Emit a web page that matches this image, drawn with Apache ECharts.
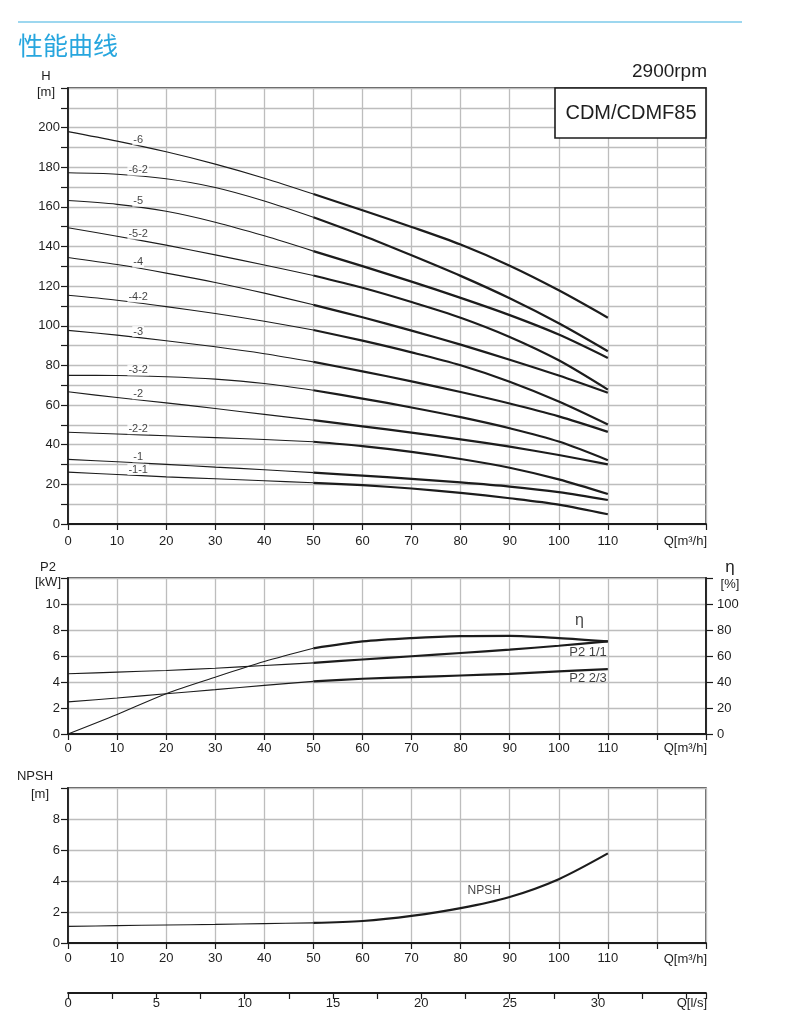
<!DOCTYPE html>
<html>
<head>
<meta charset="utf-8">
<script src="https://cdn.jsdelivr.net/npm/echarts@6/dist/echarts.min.js"></script>
<style>
html,body{margin:0;padding:0;background:#fff;}
#c{width:800px;height:1024px;}
</style>
</head>
<body>
<div id="c"></div>
<script>
// ---- data ----
const Q = [0, 10, 20, 30, 40, 50, 60, 70, 80, 90, 100, 110];           // m3/h
const curveNames = ['-6', '-6-2', '-5', '-5-2', '-4', '-4-2', '-3', '-3-2', '-2', '-2-2', '-1', '-1-1'];
const H_6   = [198, 193.2, 187.8, 181.6, 174.5, 166.5, 158.3, 149.9, 141, 130.3, 117.9, 104.1];
const H_6_2 = [177.2, 176.5, 174.2, 169.8, 163, 154.8, 145.6, 135.6, 125.2, 113.9, 101.3, 87.2];
const H_5   = [163.2, 161.3, 157.8, 152.3, 145.4, 137.7, 130.1, 122.3, 114.1, 105.4, 95.6, 83.8];
const H_5_2 = [149.5, 145.2, 140.7, 135.8, 130.7, 125.4, 119.2, 112, 104.1, 94.4, 82.6, 67.8];
const H_4   = [134.5, 130.9, 126.6, 121.9, 116.5, 110.6, 104.3, 97.6, 90.5, 82.9, 74.9, 66.2];
const H_4_2 = [115.4, 112.9, 109.7, 106.2, 102.3, 97.9, 92.5, 86.6, 80.1, 71.8, 61.8, 50.2];
const H_3   = [97.7, 95.3, 92.5, 89.4, 85.9, 81.8, 77, 72, 66.6, 60.8, 54.3, 46.5];
const H_3_2 = [75, 74.9, 74.3, 73.1, 70.9, 67.5, 63.3, 58.8, 53.9, 48.3, 41.6, 32.2];
const H_2   = [66.7, 63.8, 61.1, 58.3, 55.3, 52.4, 49.3, 46.1, 42.7, 39, 34.8, 30.1];
const H_2_2 = [46.3, 45.4, 44.5, 43.6, 42.6, 41.5, 39.3, 36.4, 32.8, 28.4, 22.5, 15.1];
const H_1   = [32.6, 31.4, 30.1, 28.7, 27.4, 25.9, 24.4, 22.8, 21, 18.9, 16.1, 12.1];
const H_1_1 = [26.2, 25, 23.8, 22.8, 21.8, 20.8, 19.6, 17.9, 15.7, 13, 9.8, 4.9];
const headCurves = [H_6, H_6_2, H_5, H_5_2, H_4, H_4_2, H_3, H_3_2, H_2, H_2_2, H_1, H_1_1];

const P2_full  = [4.63, 4.76, 4.89, 5.06, 5.27, 5.47, 5.73, 5.98, 6.23, 6.49, 6.79, 7.12];   // kW
const P2_twoThird = [2.47, 2.77, 3.1, 3.41, 3.74, 4.05, 4.25, 4.38, 4.5, 4.63, 4.81, 4.99]; // kW
const ETA = [0, 15, 31, 43.7, 55.7, 65.9, 71.2, 73.8, 75.3, 75.5, 73.8, 71.2];             // %
const NPSH = [1.07, 1.12, 1.16, 1.2, 1.25, 1.3, 1.42, 1.75, 2.25, 2.97, 4.12, 5.78];       // m

const xTicksQ = { min: 0, max: 130, interval: 10 };
const xTicksLs = { min: 0, max: 130 / 3.6, interval: 2.5 };

// ---- helpers ----
const INK = '#1c1c1c';
const GRIDC = '#bdbdbd';
const FONT = '"Liberation Sans", Arial, sans-serif';

function pts(arr, from, to) {
  const out = [];
  for (let i = from; i <= to; i++) out.push([Q[i], arr[i]]);
  return out;
}
function split(name, arr, xi, yi) {
  const base = { type: 'line', xAxisIndex: xi, yAxisIndex: yi, showSymbol: false, symbol: 'none',
                 smooth: 0.3, silent: true, z: 5 };
  return [
    Object.assign({}, base, { name: name + ' a', data: pts(arr, 0, 5), lineStyle: { color: INK, width: 1.1 } }),
    Object.assign({}, base, { name: name + ' b', data: pts(arr, 5, 11), lineStyle: { color: INK, width: 2.2 } })
  ];
}
function interp(arr, q) {
  for (let i = 0; i < Q.length - 1; i++) {
    if (q >= Q[i] && q <= Q[i + 1]) return arr[i] + (arr[i + 1] - arr[i]) * (q - Q[i]) / (Q[i + 1] - Q[i]);
  }
  return arr[arr.length - 1];
}
function xAxis(gi, ticks, fmt, split, tickLen, margin) {
  return {
    type: 'value', gridIndex: gi, min: ticks.min, max: ticks.max, interval: ticks.interval,
    axisLine: { show: true, onZero: false, lineStyle: { color: INK, width: 1.8 } },
    axisTick: { show: true, length: tickLen, lineStyle: { color: INK, width: 1.2 } },
    axisLabel: { formatter: fmt, color: '#1e1e1e', fontSize: 13, fontFamily: FONT, margin: margin, showMaxLabel: true, showMinLabel: true },
    splitLine: { show: split, lineStyle: { color: GRIDC, width: 1.3 } }
  };
}
function yAxis(gi, min, max, interval, fmt, pos, split) {
  return {
    type: 'value', gridIndex: gi, position: pos, min: min, max: max, interval: interval,
    axisLine: { show: true, lineStyle: { color: INK, width: 1.8 } },
    axisTick: { show: true, length: 7, lineStyle: { color: INK, width: 1.2 } },
    axisLabel: { formatter: fmt, color: '#1e1e1e', fontSize: 13, fontFamily: FONT, margin: pos === 'right' ? 11 : 8 },
    splitLine: { show: split, lineStyle: { color: GRIDC, width: 1.3 } }
  };
}

const series = [];
headCurves.forEach((arr, i) => series.push(...split(curveNames[i], arr, 0, 0)));
// curve labels sit just above each curve at Q ≈ 14.3
series.push({
  type: 'scatter', xAxisIndex: 0, yAxisIndex: 0, symbolSize: 0, silent: true, z: 8,
  data: headCurves.map((arr, i) => ({ value: [14.3, interp(arr, 14.3)], name: curveNames[i] })),
  label: { show: true, position: 'inside', offset: [0, -6], formatter: p => p.name,
           color: '#111', fontSize: 11, fontFamily: FONT, backgroundColor: '#fff', padding: [0, 1] }
});

series.push(...split('P2 1/1', P2_full, 1, 1));
series.push(...split('P2 2/3', P2_twoThird, 1, 1));
series.push(...split('eta', ETA, 1, 2));
series.push({
  type: 'scatter', xAxisIndex: 1, yAxisIndex: 1, symbolSize: 0, silent: true, z: 8,
  data: [
    { value: [110, P2_full[11]], name: 'P2 1/1', label: { offset: [-1, 11] } },
    { value: [110, P2_twoThird[11]], name: 'P2 2/3', label: { offset: [-1, 9] } }
  ],
  label: { show: true, position: 'inside', align: 'right', formatter: p => p.name,
           color: '#111', fontSize: 13, fontFamily: FONT }
});
series.push({
  type: 'scatter', xAxisIndex: 1, yAxisIndex: 2, symbolSize: 0, silent: true, z: 8,
  data: [{ value: [104, interp(ETA, 104)], name: 'η' }],
  label: { show: true, position: 'inside', offset: [1, -19], formatter: p => p.name,
           color: '#111', fontSize: 16, fontFamily: FONT }
});

series.push(...split('NPSH', NPSH, 2, 3));
series.push({
  type: 'scatter', xAxisIndex: 2, yAxisIndex: 3, symbolSize: 0, silent: true, z: 8,
  data: [{ value: [85, interp(NPSH, 85)], name: 'NPSH' }],
  label: { show: true, position: 'inside', offset: [-1, -12], formatter: p => p.name,
           color: '#111', fontSize: 12, fontFamily: FONT }
});

const gridBase = { show: true, borderColor: INK, borderWidth: 1.3, backgroundColor: 'transparent', containLabel: false };

function txt(x, y, s, size, align, extra) {
  return Object.assign({ type: 'text', z: 100, x: x, y: y,
    style: { text: s, fill: '#1e1e1e', font: size + 'px ' + FONT, textAlign: align || 'center', textVerticalAlign: 'middle' } }, extra || {});
}

const option = {
  animation: false,
  backgroundColor: '#fff',
  grid: [
    Object.assign({ left: 68, right: 94, top: 88, height: 436 }, gridBase),
    Object.assign({ left: 68, right: 94, top: 578, height: 156 }, gridBase),
    Object.assign({ left: 68, right: 94, top: 788, height: 155 }, gridBase),
    { left: 68, right: 94, top: 992, height: 1, show: false }
  ],
  xAxis: [
    xAxis(0, xTicksQ, v => (v <= 110 ? v : ''), true, 6, 11),
    xAxis(1, xTicksQ, v => (v <= 110 ? v : ''), true, 6, 8),
    xAxis(2, xTicksQ, v => (v <= 110 ? v : ''), true, 6, 9),
    xAxis(3, xTicksLs, v => ((Math.abs(v % 5) < 1e-6 && v <= 30) ? v : ''), false, 6, 4)
  ],
  yAxis: [
    yAxis(0, 0, 220, 10, v => (v % 20 === 0 && v <= 200 ? v : ''), 'left', true),
    yAxis(1, 0, 12, 2, v => (v <= 10 ? v : ''), 'left', true),
    yAxis(1, 0, 120, 20, v => (v <= 100 ? v : ''), 'right', false),
    yAxis(2, 0, 10, 2, v => (v <= 8 ? v : ''), 'left', true),
    { type: 'value', gridIndex: 3, show: false, min: 0, max: 1 }
  ],
  series: series,
  graphic: [
    { type: 'line', z: 100, shape: { x1: 18, y1: 22, x2: 742, y2: 22 }, style: { stroke: '#7ccaea', lineWidth: 1.5 } },
    { type: 'text', z: 100, x: 18, y: 45, style: { text: '性能曲线', fill: '#27a6de',
        font: '25px "Noto Sans CJK SC", sans-serif', textAlign: 'left', textVerticalAlign: 'middle' } },
    txt(707, 72, '2900rpm', 19, 'right'),
    { type: 'rect', z: 100, shape: { x: 555, y: 88, width: 151, height: 50 },
      style: { fill: '#fff', stroke: INK, lineWidth: 1.6 } },
    txt(631, 113, 'CDM/CDMF85', 20, 'center'),
    txt(46, 76, 'H', 13), txt(46, 92, '[m]', 13),
    txt(48, 567, 'P2', 13), txt(48, 582, '[kW]', 13),
    txt(730, 567, 'η', 17), txt(730, 584, '[%]', 13),
    txt(35, 776, 'NPSH', 13), txt(40, 794, '[m]', 13),
    txt(707, 541, 'Q[m³/h]', 13, 'right'),
    txt(707, 748, 'Q[m³/h]', 13, 'right'),
    txt(707, 959, 'Q[m³/h]', 13, 'right'),
    txt(707, 1003, 'Q[l/s]', 13, 'right')
  ]
};

echarts.init(document.getElementById('c'), null, { renderer: 'canvas' }).setOption(option);
</script>
</body>
</html>
